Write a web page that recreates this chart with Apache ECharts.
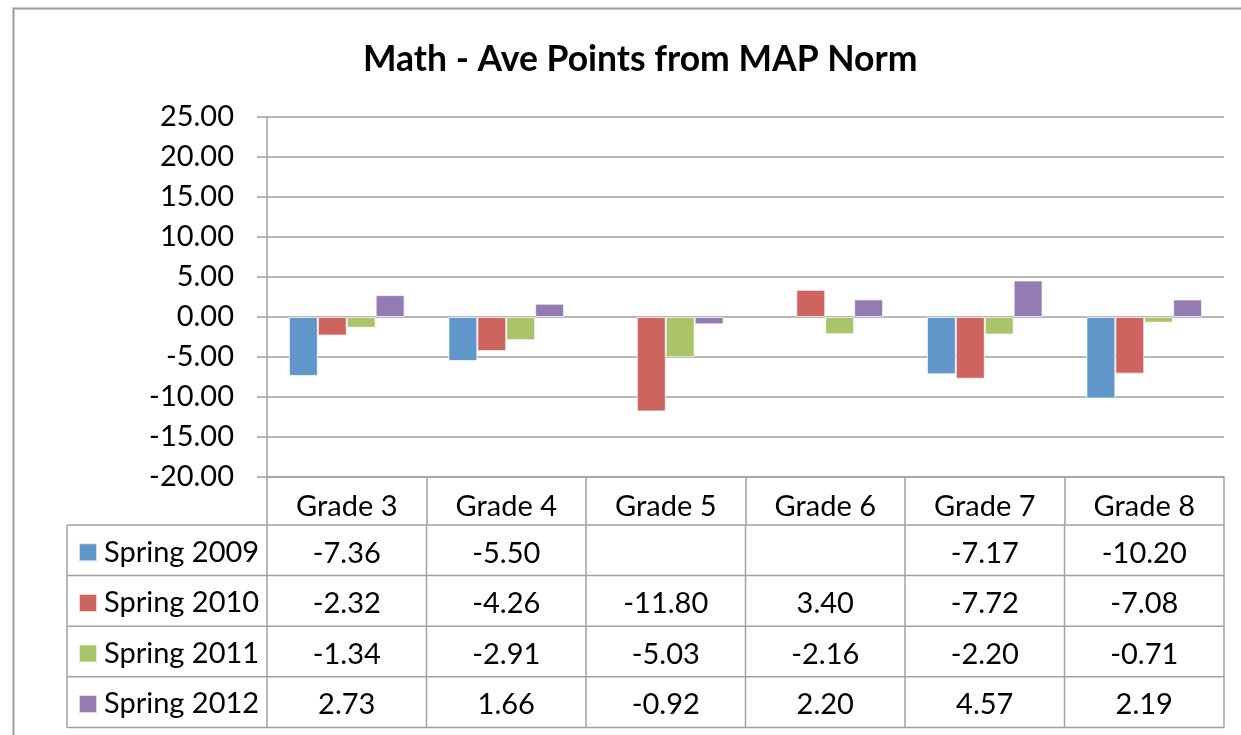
<!DOCTYPE html>
<html>
<head>
<meta charset="utf-8">
<script src="https://cdn.jsdelivr.net/npm/echarts@6/dist/echarts.min.js"></script>
<style>
  html, body { margin: 0; padding: 0; background: #fff; }
  #chart { width: 1241px; height: 735px; }
</style>
</head>
<body>
<div id="chart"></div>
<script>
const grades = ['Grade 3', 'Grade 4', 'Grade 5', 'Grade 6', 'Grade 7', 'Grade 8'];
const seriesNames = ['Spring 2009', 'Spring 2010', 'Spring 2011', 'Spring 2012'];
const spring2009 = [-7.36, -5.50, null, null, -7.17, -10.20];
const spring2010 = [-2.32, -4.26, -11.80, 3.40, -7.72, -7.08];
const spring2011 = [-1.34, -2.91, -5.03, -2.16, -2.20, -0.71];
const spring2012 = [2.73, 1.66, -0.92, 2.20, 4.57, 2.19];
const seriesValues = [spring2009, spring2010, spring2011, spring2012];
const colors = ['#6096ca', '#cd645f', '#aac46a', '#947bb2'];

const FONT = 'Lato';
const FS = 29;
const LINE = '#a0a0a0';
// table layout
const tableLeft = 67;
const tableTop = 525;
const rowH = 50.6;

const chart = echarts.init(document.getElementById('chart'));

// one legend per table row so each key sits in its own cell
const legends = seriesNames.map((name, r) => ({
  orient: 'horizontal',
  left: 78,
  top: tableTop + r * rowH + rowH / 2 - FS / 2 + 2,
  padding: 0,
  itemWidth: 18,
  itemHeight: 18,
  itemGap: 7,
  icon: 'rect',
  selectedMode: false,
  textStyle: { fontFamily: FONT, fontSize: FS, color: '#000', padding: [0, 0, 0, 2] },
  data: [name],
}));

const option = {
  animation: false,
  title: {
    text: 'Math - Ave Points from MAP Norm',
    left: 358,
    top: 37,
    textStyle: { fontFamily: FONT, fontSize: 35.5, fontWeight: 'bold', color: '#000' },
  },
  legend: legends,
  grid: { left: 267, right: 17, top: 117, bottom: 258 },
  xAxis: {
    type: 'category',
    data: grades,
    axisLine: { onZero: false, lineStyle: { color: LINE, width: 1.5 } },
    axisTick: { show: true, length: 48, lineStyle: { color: LINE, width: 1.5 } },
    axisLabel: { fontFamily: FONT, fontSize: FS, color: '#000', margin: 15 },
  },
  yAxis: {
    type: 'value',
    min: -20,
    max: 25,
    interval: 5,
    axisLine: { show: true, lineStyle: { color: LINE, width: 1.5 } },
    axisTick: { show: true, length: 10, lineStyle: { color: LINE, width: 1.5 } },
    axisLabel: {
      fontFamily: FONT, fontSize: FS, color: '#000', margin: 33,
      formatter: v => v.toFixed(2),
    },
    splitLine: { lineStyle: { color: LINE, width: 1.5 } },
  },
  series: seriesNames.map((name, i) => ({
    name,
    type: 'bar',
    data: seriesValues[i],
    barGap: '0%',
    barCategoryGap: '27.5%',
    itemStyle: { color: colors[i], borderColor: 'rgba(255,255,255,0.7)', borderWidth: 1 },
  })),
};
chart.setOption(option);

// data table under the plot
const px = g => chart.convertToPixel({ xAxisIndex: 0 }, g);
const colW = px(grades[1]) - px(grades[0]);
const plotLeft = px(grades[0]) - colW / 2;
const rightX = px(grades[grades.length - 1]) + colW / 2;

const graphics = [];
// outer frame
graphics.push({
  type: 'rect', left: 11, top: 6, silent: true,
  shape: { width: 1400, height: 900 },
  style: { fill: null, stroke: '#9a9a9a', lineWidth: 2 },
});
// horizontal lines
for (let r = 0; r <= seriesNames.length; r++) {
  const y = tableTop + r * rowH;
  graphics.push({
    type: 'line', silent: true,
    shape: { x1: tableLeft, y1: y, x2: rightX, y2: y },
    style: { stroke: LINE, lineWidth: 1.5 },
  });
}
// vertical lines
const vx = [tableLeft];
for (let c = 0; c <= grades.length; c++) vx.push(plotLeft + c * colW);
vx.forEach(x => {
  graphics.push({
    type: 'line', silent: true,
    shape: { x1: x, y1: tableTop, x2: x, y2: tableTop + seriesNames.length * rowH },
    style: { stroke: LINE, lineWidth: 1.5 },
  });
});
// values
seriesValues.forEach((vals, r) => {
  vals.forEach((v, c) => {
    if (v === null) return;
    graphics.push({
      type: 'text', silent: true,
      x: px(grades[c]),
      y: tableTop + r * rowH + rowH / 2 + 3,
      style: {
        text: v.toFixed(2), fontFamily: FONT, fontSize: FS, fill: '#000',
        align: 'center', verticalAlign: 'middle',
      },
    });
  });
});
chart.setOption({ graphic: graphics });
</script>
</body>
</html>
